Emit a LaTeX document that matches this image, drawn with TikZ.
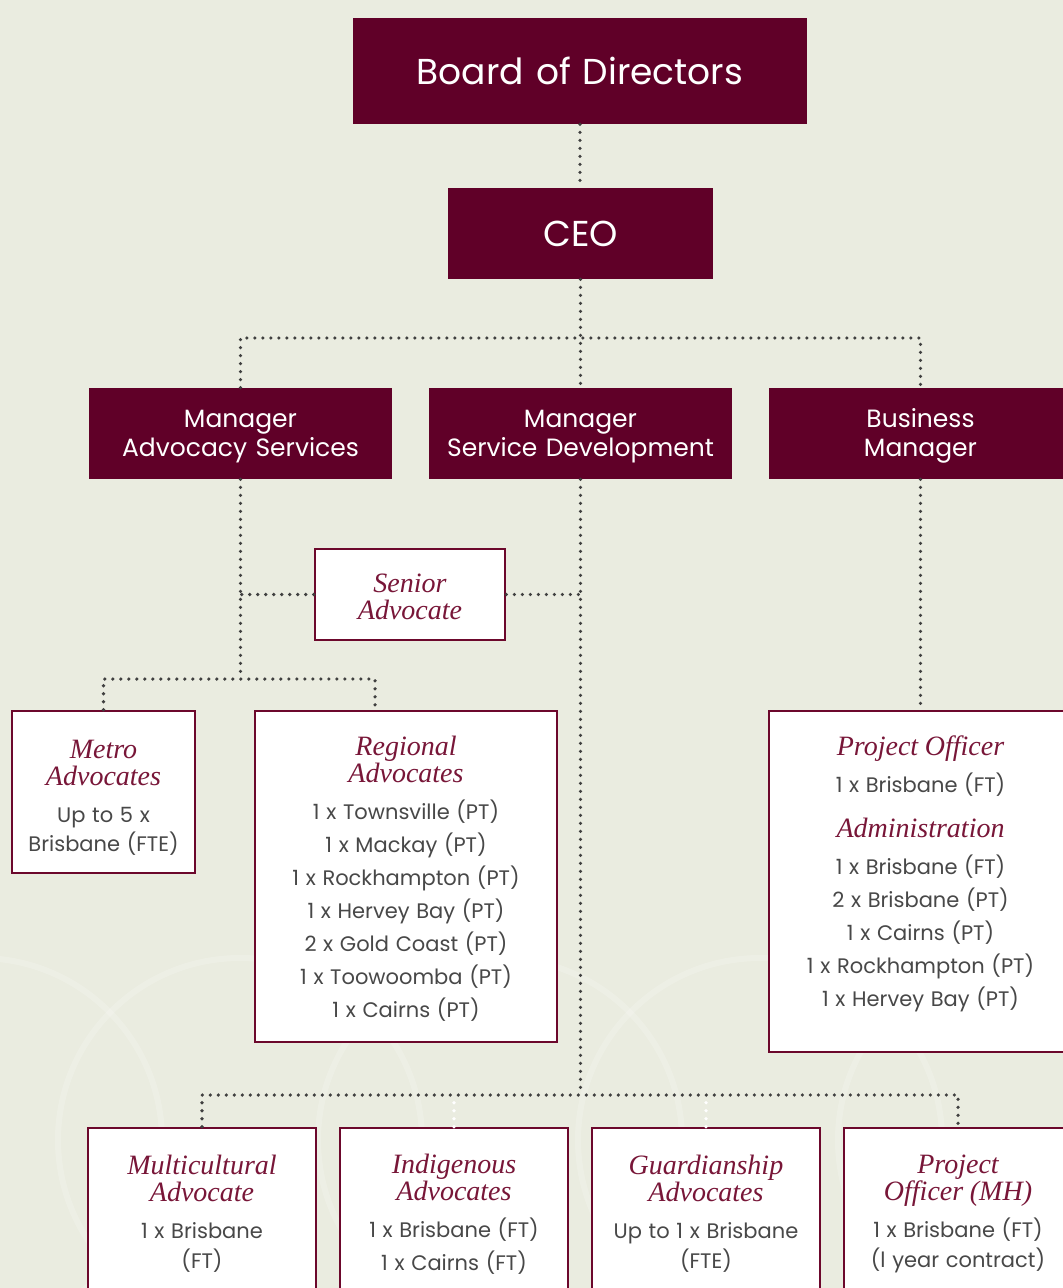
\documentclass[tikz,border=0pt]{standalone}
\usepackage{fontspec}
\newfontfamily\gothic{Poppins}
\newfontfamily\bask{Liberation Serif}
\definecolor{paper}{RGB}{234,236,224}
\definecolor{wine}{RGB}{96,0,40}
\definecolor{wineline}{RGB}{108,8,44}
\definecolor{winetext}{RGB}{120,22,56}
\definecolor{inkgrey}{RGB}{72,72,72}
\definecolor{dotgrey}{RGB}{64,64,64}
\newcommand\roletitle{\bask\itshape\color{winetext}\fontsize{14}{13.5}\selectfont}
\newcommand\stafftext{\gothic\color{inkgrey}\fontsize{10.5}{16.5}\selectfont}
\newcommand\padtop[1]{\vrule width 0pt height \dimexpr\fontcharht\font`M+#1\relax}

\begin{document}
\begin{tikzpicture}[x=0.5pt,y=-0.5pt,
  head/.style={fill=wine,text=white,inner sep=0pt,align=center,
    font=\gothic\fontsize{12.5}{14.5}\selectfont},
  card/.style={draw=wineline,fill=white,line width=1.3pt,inner sep=0pt,align=center},
  dots/.style={draw=dotgrey,line width=1.8pt,line cap=round,dash pattern=on 0pt off 4pt},
  ghost/.style={dots,draw=white},
  motif/.style={draw=white,line width=3pt,opacity=0.18}]
  \fill[paper] (0,0) rectangle (1063,1288);
  \useasboundingbox (0,0) rectangle (1063,1288);
  \clip (0,0) rectangle (1063,1288);
  \foreach \cx in {-20,240,500,760,1020}
    \draw[motif] (\cx,1140) circle (182);

  \node[head,text width=227pt,minimum height=53pt,font=\gothic\fontsize{18}{20}\selectfont]
    (board) at (580,71) {Board of Directors};
  \node[head,text width=132.5pt,minimum height=45.5pt,font=\gothic\fontsize{18}{20}\selectfont]
    (ceo) at (580.5,233.5) {CEO};
  \node[head,text width=151.5pt,minimum height=45.5pt] (advmgr) at (240.5,433.5)
    {\padtop{3pt}Manager\\Advocacy Services};
  \node[head,text width=151.5pt,minimum height=45.5pt] (devmgr) at (580.5,433.5)
    {\padtop{3pt}Manager\\Service Development};
  \node[head,text width=151.5pt,minimum height=45.5pt] (busmgr) at (920.5,433.5)
    {\padtop{3pt}Business\\Manager};

  \node[card,text width=95pt,minimum height=45.5pt] (senior) at (410,594.5)
    {\roletitle\padtop{2pt}Senior\\Advocate\par};
  \node[card,text width=91.5pt,minimum height=81pt] (metro) at (103.5,792)
    {{\roletitle\padtop{6pt}Metro\\Advocates\par}\vspace{2pt}
     {\stafftext Up to 5 x\\[-2pt]Brisbane (FTE)\par}};
  \node[card,text width=151pt,minimum height=165.5pt] (regional) at (406,876.5)
    {{\roletitle\padtop{3pt}Regional\\Advocates\par}\vspace{2pt}
     {\stafftext 1 x Townsville (PT)\\1 x Mackay (PT)\\1 x Rockhampton (PT)\\1 x Hervey Bay (PT)\\
      2 x Gold Coast (PT)\\1 x Toowoomba (PT)\\1 x Cairns (PT)\par}};
  \node[card,text width=151.5pt,minimum height=170.5pt] (projadmin) at (920.5,881.5)
    {{\roletitle Project Officer\par}\vspace{2pt}
     {\stafftext 1 x Brisbane (FT)\par}\vspace{9pt}
     {\roletitle Administration\par}\vspace{2pt}
     {\stafftext 1 x Brisbane (FT)\\2 x Brisbane (PT)\\1 x Cairns (PT)\\1 x Rockhampton (PT)\\
      1 x Hervey Bay (PT)\vrule width 0pt depth 10pt\par}};

  \node[card,text width=114pt,minimum height=86pt] (multi) at (202,1214)
    {{\roletitle Multicultural\\Advocate\par}\vspace{2pt}
     {\stafftext 1 x Brisbane\\[-1.5pt](FT)\par}};
  \node[card,text width=114pt,minimum height=86pt] (indig) at (454,1214)
    {{\roletitle Indigenous\\Advocates\par}\vspace{2pt}
     {\stafftext 1 x Brisbane (FT)\\1 x Cairns (FT)\par}};
  \node[card,text width=114pt,minimum height=86pt] (guard) at (706,1214)
    {{\roletitle Guardianship\\Advocates\par}\vspace{2pt}
     {\stafftext Up to 1 x Brisbane\\[-1.5pt](FTE)\par}};
  \node[card,text width=114pt,minimum height=86pt] (pomh) at (958,1214)
    {{\roletitle Project\\Officer (MH)\par}\vspace{2pt}
     {\stafftext 1 x Brisbane (FT)\\[-1.5pt](l year contract)\par}};

  \coordinate (top) at (580,338);
  \coordinate (advfork) at (241,679);
  \coordinate (regtop) at (375,679);
  \coordinate (devfork) at (580,1095);

  \draw[dots] (board.south) -- (board.south |- ceo.north);
  \draw[dots] (ceo.south) -- (devmgr.north);
  \draw[dots] (advmgr.north) |- (top) -| (busmgr.north);
  \draw[dots] (advmgr.south) -- (advmgr.south |- advfork);
  \draw[dots] (senior.west) -- (senior.west -| advmgr.south);
  \draw[dots] (metro.north) |- (regtop) -- (regtop |- regional.north);
  \draw[dots] (senior.east) -- (senior.east -| devmgr.south);
  \draw[ghost] (indig.north) -- (indig.north |- devfork);
  \draw[ghost] (guard.north) -- (guard.north |- devfork);
  \draw[dots] (devmgr.south) -- (devmgr.south |- devfork);
  \draw[dots] (multi.north) |- (devfork) -| (pomh.north);
  \draw[dots] (busmgr.south) -- (busmgr.south |- projadmin.north);
\end{tikzpicture}
\end{document}
